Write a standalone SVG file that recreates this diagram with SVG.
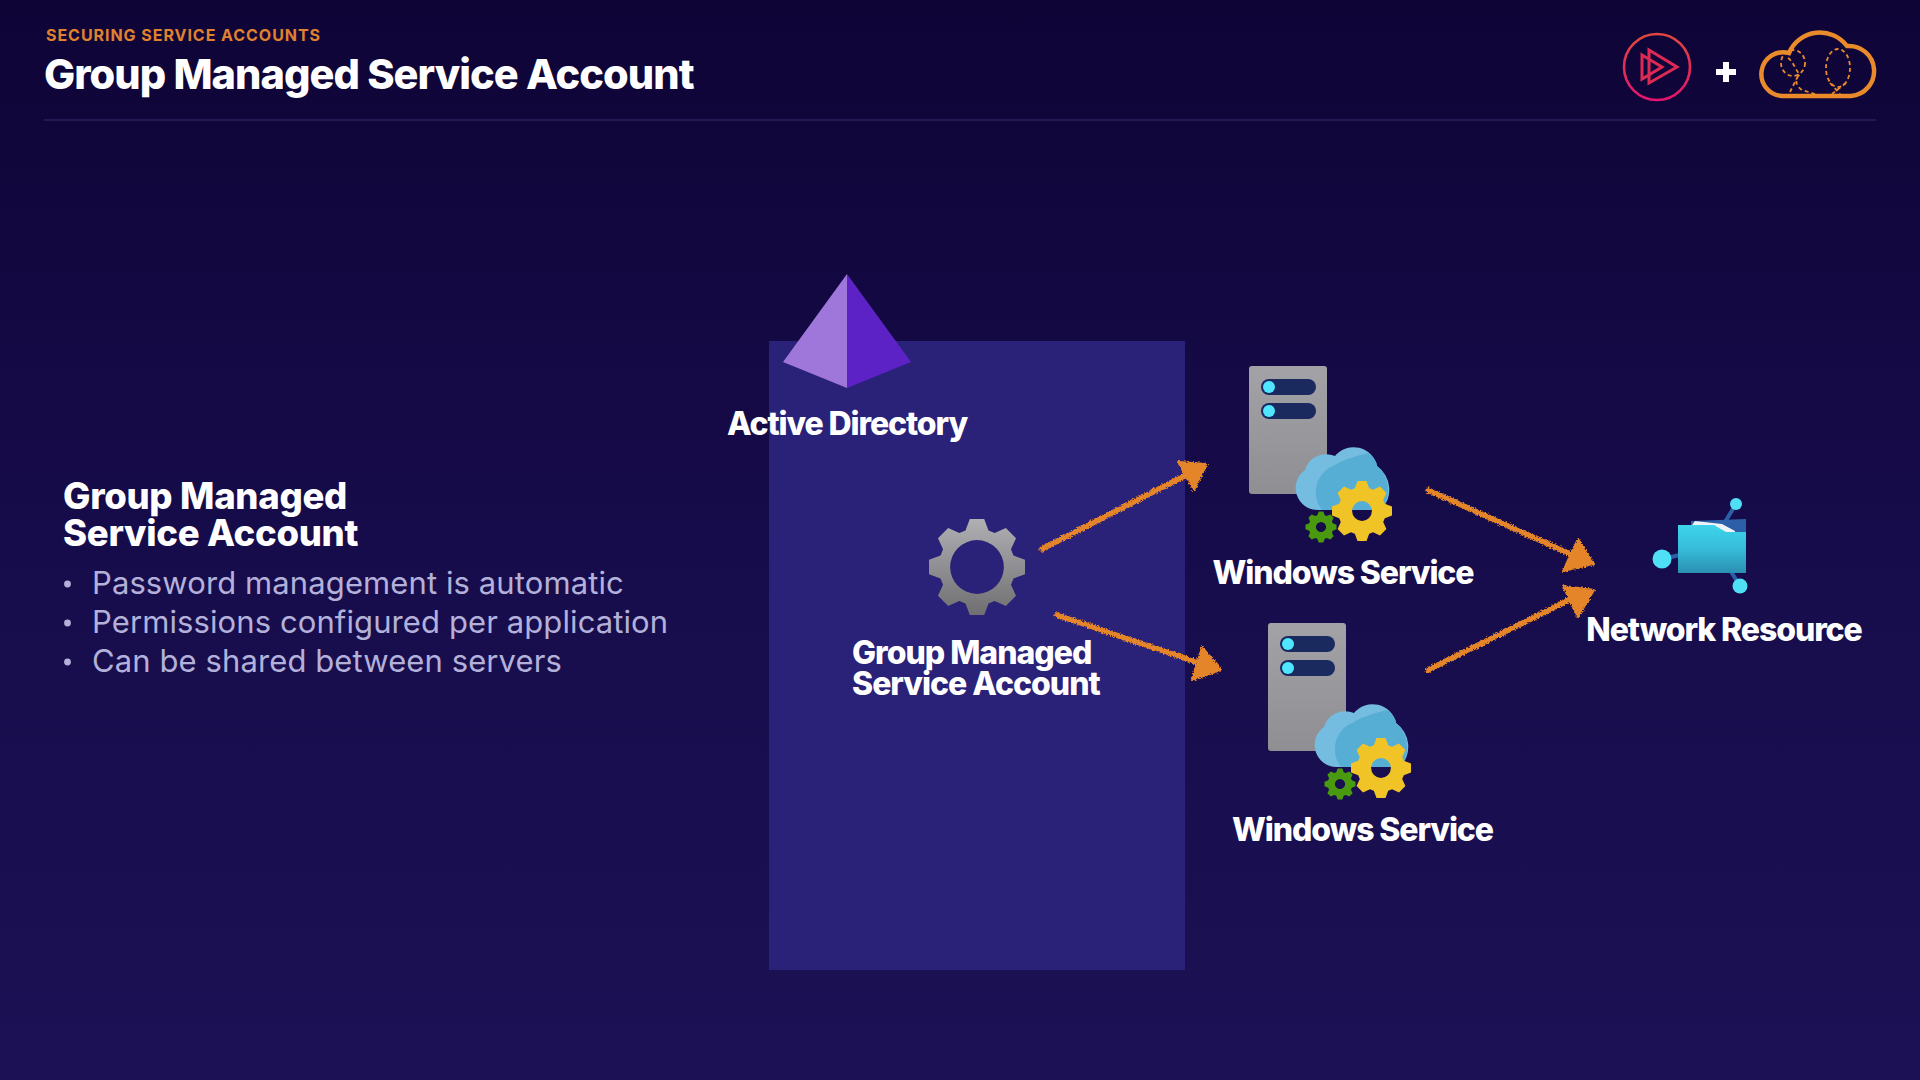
<svg xmlns="http://www.w3.org/2000/svg" width="1920" height="1080" viewBox="0 0 1920 1080">
<style>
text{font-family:"Inter","Liberation Sans",sans-serif}
.h{font-weight:800;fill:#fff;font-size:32px;letter-spacing:-1.1px}
.b{font-weight:400;fill:#b3b1da;font-size:31px;letter-spacing:.1px}
.arrow{fill:none;stroke:#e5852a;stroke-width:5.5;stroke-linecap:round}
.head{fill:#e5852a;stroke:#e5852a;stroke-width:2;stroke-linejoin:round}
.dash{fill:none;stroke:#e98a2b;stroke-width:1.8;stroke-dasharray:4 3}
.link{fill:none;stroke:#2c5fa8;stroke-width:4}
.dot{fill:#b3b1da}
.cyan{fill:#50e0f5}
</style>
<defs>
<linearGradient id="bg" x1="0" y1="0" x2="0" y2="1"><stop offset="0" stop-color="#0e0436"/><stop offset=".5" stop-color="#170c4b"/><stop offset="1" stop-color="#1b1154"/></linearGradient>
<linearGradient id="ring" x1="0" y1="0" x2="0" y2="1"><stop offset="0" stop-color="#e0483f"/><stop offset="1" stop-color="#e5146f"/></linearGradient>
<linearGradient id="gray" x1="0" y1="0" x2="0" y2="1"><stop offset="0" stop-color="#b0b0b4"/><stop offset="1" stop-color="#6f6f72"/></linearGradient>
<linearGradient id="srv" x1="0" y1="0" x2="0" y2="1"><stop offset="0" stop-color="#a3a2a6"/><stop offset="1" stop-color="#8f8e92"/></linearGradient>
<linearGradient id="fold" x1="0" y1="0" x2="0" y2="1"><stop offset="0" stop-color="#3ed4ec"/><stop offset=".5" stop-color="#36bcd8"/><stop offset="1" stop-color="#2a8fb2"/></linearGradient>
<filter id="rough" x="-10%" y="-10%" width="120%" height="120%" color-interpolation-filters="sRGB"><feTurbulence type="fractalNoise" baseFrequency=".6" numOctaves="2" seed="4"/><feDisplacementMap in="SourceGraphic" scale="4.500" xChannelSelector="R" yChannelSelector="G"/></filter>
<path id="gearSmallHole" fill-rule="evenodd" d="M76-24 100-15 100 15 76 24 70.7 36.8 81.3 60.1 60.1 81.3 36.8 70.7 24 76 15 100-15 100-24 76-36.8 70.7-60.1 81.3-81.3 60.1-70.7 36.8-76 24-100 15-100-15-76-24-70.7-36.8-81.3-60.1-60.1-81.3-36.8-70.7-24-76-15-100 15-100 24-76 36.8-70.7 60.1-81.3 81.3-60.1 70.7-36.8ZM33 0A33 33 0 1 0-33 0 33 33 0 1 0 33 0Z"/>
<g id="serviceIcon">
<rect x="1249" y="366" width="78" height="128" rx="3" fill="url(#srv)"/>
<rect x="1261" y="379" width="55" height="16" rx="8" fill="#1a2a5f"/>
<rect x="1261" y="403" width="55" height="16" rx="8" fill="#1a2a5f"/>
<circle cx="1269" cy="387" r="6" fill="#50e6ff"/>
<circle cx="1269" cy="411" r="6" fill="#50e6ff"/>
<path d="M1318 510A22 22 0 0 1 1305 470 22 22 0 0 1 1335 456 24 24 0 0 1 1377 466 29 29 0 0 1 1381 510Z" fill="#75bde0"/>
<path d="M1322 510C1310 495 1316 472 1335 465 1345 458 1362 455 1368 453 1374 458 1377 462 1377 466 1391 478 1391 498 1381 510Z" fill="#56aed5"/>
<use href="#gearSmallHole" transform="translate(1362 511) scale(.3)" fill="#f0c426"/>
<use href="#gearSmallHole" transform="translate(1321 527) scale(.155)" fill="#4a9a10"/>
</g>
</defs>
<rect id="background" width="1920" height="1080" fill="url(#bg)"/>
<g id="header">
<text x="46" y="41" font-size="16" font-weight="700" fill="#e0812f" letter-spacing=".95">SECURING SERVICE ACCOUNTS</text>
<text x="44" y="89" font-size="41.500" font-weight="800" fill="#fff" letter-spacing="-.95">Group Managed Service Account</text>
<rect x="44" y="119" width="1832" height="2" fill="#231a55"/>
</g>
<g id="logos">
<circle cx="1657" cy="67" r="33" fill="none" stroke="url(#ring)" stroke-width="2.6"/>
<path d="M1649 50 1677 67 1649 83ZM1642 55 1662 67 1642 79Z" fill="none" stroke="#dd2a55" stroke-width="3"/>
<path d="M1723 62h6v7h7v6h-7v7h-6v-7h-7v-6h7z" fill="#fff"/>
<path d="M1782 96H1851A25 25 0 0 0 1847 46 33.700 33.700 0 0 0 1789 53 21.900 21.900 0 1 0 1782 96Z" fill="none" stroke="#e98a2b" stroke-width="4.500"/>
<ellipse class="dash" cx="1793" cy="63" rx="12" ry="13"/>
<path class="dash" d="M1788 58C1794 62 1796 72 1800 74 1794 80 1796 86 1802 90L1815 94M1798 76 1790 92"/>
<ellipse class="dash" cx="1838" cy="68" rx="12" ry="19"/>
<path class="dash" d="M1830 83 1840 94M1846 83 1832 94"/>
</g>
<g id="intro">
<text class="h" style="font-size:36.500px;letter-spacing:-.3px"><tspan x="63" y="509">Group Managed</tspan><tspan x="63" y="546">Service Account</tspan></text>
<circle class="dot" cx="67.500" cy="584" r="3.400"/><circle class="dot" cx="67.500" cy="623" r="3.400"/><circle class="dot" cx="67.500" cy="662" r="3.400"/>
<text class="b" x="92" y="594">Password management is automatic</text>
<text class="b" x="92" y="633">Permissions configured per application</text>
<text class="b" x="92" y="672">Can be shared between servers</text>
</g>
<rect id="domain-panel" x="769" y="341" width="416" height="629" fill="#2a2178"/>
<g id="active-directory">
<path d="M847 274 783 362 847 388Z" fill="#9f76da"/>
<path d="M847 274 911 362 847 388Z" fill="#5c22c6"/>
<text class="h" x="847" y="435" text-anchor="middle">Active Directory</text>
</g>
<g id="gmsa">
<path fill="url(#gray)" fill-rule="evenodd" transform="translate(977 567) scale(.48)" d="M76-24 100-15 100 15 76 24 70.7 36.8 81.3 60.1 60.1 81.3 36.8 70.7 24 76 15 100-15 100-24 76-36.8 70.7-60.1 81.3-81.3 60.1-70.7 36.8-76 24-100 15-100-15-76-24-70.7-36.8-81.3-60.1-60.1-81.3-36.8-70.7-24-76-15-100 15-100 24-76 36.8-70.7 60.1-81.3 81.3-60.1 70.7-36.8ZM56 0A56 56 0 1 0-56 0 56 56 0 1 0 56 0Z"/>
<text class="h" style="letter-spacing:-1px"><tspan x="852" y="664">Group Managed</tspan><tspan x="852" y="695">Service Account</tspan></text>
</g>
<g id="windows-service-1">
<use href="#serviceIcon"/>
<text class="h" x="1343" y="584" text-anchor="middle">Windows Service</text>
</g>
<g id="windows-service-2">
<use href="#serviceIcon" transform="translate(19 257)"/>
<text class="h" x="1362.500" y="841" text-anchor="middle">Windows Service</text>
</g>
<g id="network-resource">
<path class="link" d="M1662 559 1680 555M1736 504 1725 522M1730 570 1740 586"/>
<path d="M1691 521 1746 519V560H1691Z" fill="#2c5fa8"/>
<path d="M1692 525 1695 521 1722 524 1735 531V540H1692Z" fill="#eef2f7"/>
<path d="M1678 525H1714L1726 532H1746V573H1678Z" fill="url(#fold)"/>
<circle class="cyan" cx="1662" cy="559" r="9.500"/>
<circle class="cyan" cx="1736" cy="504" r="6"/>
<circle class="cyan" cx="1740" cy="586" r="7.500"/>
<text class="h" x="1724" y="641" text-anchor="middle">Network Resource</text>
</g>
<g id="connectors" filter="url(#rough)">
<path class="arrow" d="M1042 549 1192 472"/>
<path class="head" d="M1207 464 1178 462 1194 490Z"/>
<path class="arrow" d="M1057 615 1202 664"/>
<path class="head" d="M1221 670 1202 647 1192 680Z"/>
<path class="arrow" d="M1428 490 1575 556"/>
<path class="head" d="M1594 564 1578 539 1563 571Z"/>
<path class="arrow" d="M1428 670 1575 597"/>
<path class="head" d="M1594 590 1563 586 1578 617Z"/>
</g>
</svg>
